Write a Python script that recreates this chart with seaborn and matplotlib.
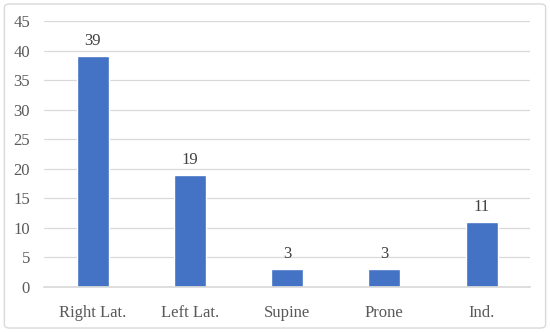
import matplotlib
import pandas as pd
import seaborn as sns
from matplotlib import pyplot as plt
from matplotlib.patches import FancyBboxPatch

matplotlib.use('agg')

categories = ["Right Lat.", "Left Lat.", "Supine", "Prone", "Ind."]
counts = [39, 19, 3, 3, 11]
y_ticks = [0, 5, 10, 15, 20, 25, 30, 35, 40, 45]

df = pd.DataFrame({"position": categories, "count": counts})

sns.set_theme(style="white")
plt.rcParams['font.family'] = ['Liberation Serif', 'DejaVu Serif']

fig = plt.figure(figsize=(5.5, 3.32), dpi=100)
ax = fig.add_axes([0.08, 0.1355, 0.884, 0.8012])

sns.barplot(df, x="position", y="count", ax=ax, color="#4472C4",
            width=0.33, saturation=1)

# labels on top of bars
for i, v in enumerate(counts):
    ax.text(i, v + 1.2, str(v), ha='center', va='bottom',
            fontsize=12, color='#404040')

ax.set_ylim(0, 45)
ax.set_yticks(y_ticks)
ax.set_xlim(-0.5, len(categories) - 0.5)
ax.yaxis.grid(True, color='#D9D9D9', linewidth=0.9)
ax.set_axisbelow(True)
ax.set_xlabel('')
ax.set_ylabel('')
for side in ['top', 'right', 'left']:
    ax.spines[side].set_visible(False)
ax.spines['bottom'].set_color('#D9D9D9')
ax.tick_params(axis='both', length=0, labelsize=12, labelcolor='#595959')
ax.tick_params(axis='x', pad=13)
ax.tick_params(axis='y', pad=10)

# outer frame
frame = FancyBboxPatch((0.008, 0.012), 0.984, 0.976,
                       boxstyle="round,pad=0,rounding_size=0.01",
                       transform=fig.transFigure, fill=False,
                       edgecolor='#D9D9D9', linewidth=1)
fig.patches.append(frame)

fig.savefig("out.png", dpi=100)
plt.close()
